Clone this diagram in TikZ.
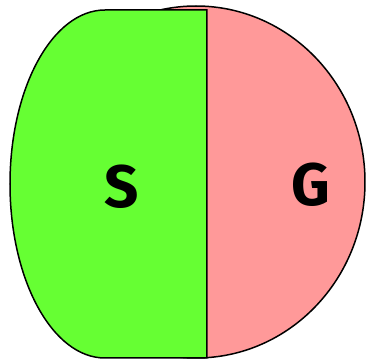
\documentclass[tikz,border=0pt]{standalone}
\usepackage{fontspec}
\setmainfont{Fira Sans}
\definecolor{sgreen}{HTML}{66FF33}
\definecolor{gred}{HTML}{FF9999}
\begin{document}
\begin{tikzpicture}[x=1pt,y=-1pt,
  region/.style={draw=black,line width=1.5pt},
  lbl/.style={font=\fontsize{60}{60}\selectfont\bfseries}]
\useasboundingbox (0,0) rectangle (368,361);
\fill[white] (0,0) rectangle (368,361);
\draw[region,fill=gred] (196,182) ellipse [x radius=169,y radius=176];
\draw[region,fill=sgreen] (207,10) -- (105,10)
  arc[start angle=-90,end angle=-270,x radius=95,y radius=174] -- (207,358) -- cycle;
\node[lbl] (s) at (122,187) {S};
\node[lbl] (g) at (311,185) {G};
\end{tikzpicture}
\end{document}
